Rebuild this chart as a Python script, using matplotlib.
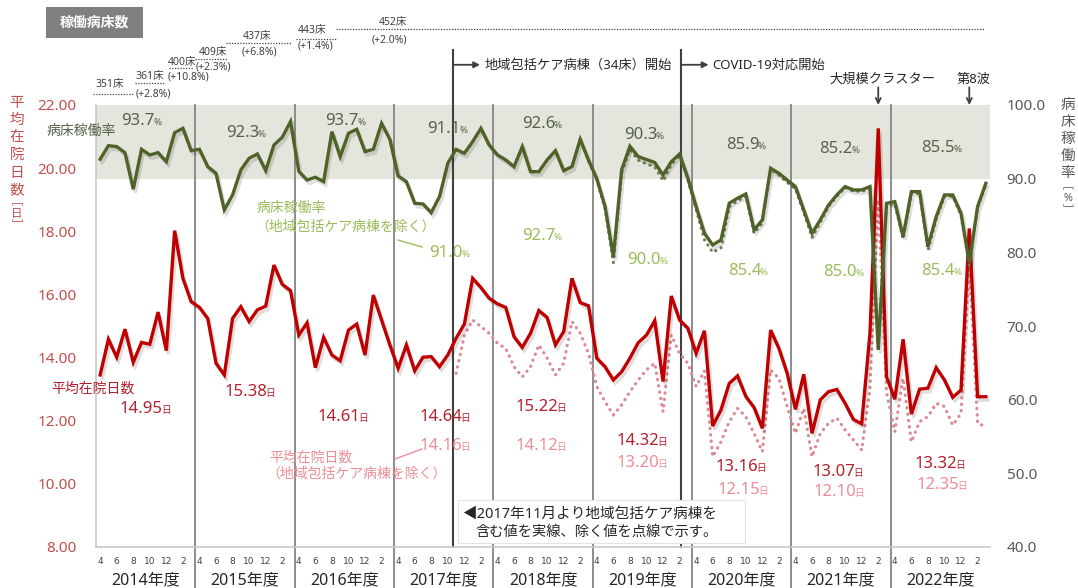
import numpy as np
import matplotlib
matplotlib.use("Agg")
import matplotlib.pyplot as plt
import matplotlib.patheffects as pe
from matplotlib.patches import Rectangle

plt.rcParams['font.family'] = ['Noto Sans', 'Noto Sans CJK JP', 'DejaVu Sans']

# fiscal years (April .. March)
years = ['2014年度', '2015年度', '2016年度', '2017年度', '2018年度',
         '2019年度', '2020年度', '2021年度', '2022年度']
month_labels = ['4', '6', '8', '10', '12', '2']

# 平均在院日数 (days) - monthly, Apr 2014 .. Mar 2023
alos = [13.45, 14.58, 14.01, 14.90, 13.85, 14.48, 14.42, 15.44, 14.22, 18.02, 16.51, 15.77,
        15.59, 15.24, 13.82, 13.45, 15.24, 15.61, 15.14, 15.51, 15.63, 16.93, 16.32, 16.12,
        14.71, 15.10, 13.68, 14.64, 14.08, 13.90, 14.87, 15.06, 14.08, 15.98, 15.19, 14.40,
        13.66, 14.40, 13.58, 14.01, 14.03, 13.71, 14.08, 14.61, 15.06, 16.51, 16.22, 15.88,
        15.70, 15.59, 14.66, 14.32, 14.77, 15.49, 15.27, 14.40, 14.82, 16.51, 15.74, 15.64,
        13.98, 13.71, 13.29, 13.55, 13.98, 14.47, 14.71, 15.17, 13.24, 15.95, 15.19, 14.93,
        14.13, 14.85, 11.83, 12.34, 13.18, 13.42, 12.77, 12.42, 11.76, 14.87, 14.29, 13.50,
        12.36, 13.47, 11.60, 12.66, 12.92, 12.99, 12.55, 12.04, 11.90, 14.77, 21.26, 13.39,
        12.68, 14.58, 12.21, 13.00, 13.03, 13.68, 13.29, 12.74, 12.97, 18.09, 12.76, 12.76]

# 平均在院日数（地域包括ケア病棟を除く） - from Nov 2017
alos_excl = [np.nan] * 43 + [
        13.50, 14.71, 15.19, 14.98, 14.77,
        14.45, 14.29, 13.71, 13.39, 13.71, 14.40, 13.98, 13.45, 13.82, 15.14, 14.77, 14.13,
        13.08, 12.60, 12.18, 12.50, 12.92, 13.29, 13.61, 13.82, 12.29, 14.71, 14.13, 13.82,
        13.08, 13.58, 10.86, 11.33, 11.97, 12.39, 12.13, 11.60, 11.02, 13.61, 13.34, 12.45,
        11.60, 12.39, 10.86, 11.60, 11.92, 12.08, 11.71, 11.39, 11.07, 13.00, 19.00, 12.90,
        11.65, 13.34, 11.33, 11.97, 12.13, 12.55, 12.45, 11.86, 12.23, 17.00, 11.92, 11.81]

# 病床稼働率 (%)
occ = [92.63, 94.48, 94.35, 93.53, 88.56, 93.98, 93.22, 93.53, 92.31, 96.24, 96.83, 93.80,
       93.98, 91.63, 90.73, 85.75, 87.79, 91.18, 92.77, 93.35, 91.09, 94.57, 95.62, 97.74,
       91.00, 89.82, 90.19, 89.60, 96.38, 92.99, 96.16, 96.70, 93.67, 93.98, 97.51, 95.34,
       90.37, 89.60, 86.66, 86.57, 85.39, 87.56, 92.09, 93.98, 93.44, 95.02, 96.83, 94.57,
       93.22, 92.54, 91.63, 94.35, 90.95, 90.95, 92.54, 93.80, 91.09, 91.63, 95.34, 92.50,
       90.00, 86.20, 79.40, 91.20, 94.40, 93.00, 92.60, 92.20, 90.50, 92.30, 93.35, 90.05,
       86.20, 82.59, 81.00, 81.68, 86.66, 87.34, 87.92, 83.04, 84.40, 91.41, 90.73, 89.82,
       88.92, 85.75, 82.59, 84.40, 86.43, 87.79, 88.92, 88.47, 88.47, 88.92, 66.76, 86.66,
       86.88, 82.14, 88.24, 88.24, 80.77, 84.85, 87.79, 87.79, 85.30, 78.52, 86.21, 89.37]

# 病床稼働率（地域包括ケア病棟を除く）
occ_excl = [np.nan] * 43 + [
       93.90, 93.40, 94.95, 96.75, 94.50,
       93.20, 92.50, 91.60, 94.30, 90.90, 90.90, 92.50, 93.75, 91.05, 91.60, 95.30, 92.40,
       89.80, 85.90, 78.60, 90.80, 93.90, 92.50, 92.00, 91.60, 89.70, 91.90, 93.20, 89.80,
       85.80, 81.70, 80.00, 80.60, 86.20, 87.00, 87.60, 82.60, 84.00, 91.30, 90.50, 89.50,
       88.60, 85.40, 82.00, 84.10, 86.20, 87.60, 88.80, 88.30, 88.30, 88.60, 67.50, 86.30,
       86.50, 81.80, 88.00, 88.00, 80.30, 84.50, 87.60, 87.60, 85.00, 78.20, 86.00, 89.20]

# yearly averages
occ_avg = [93.7, 92.3, 93.7, 91.1, 92.6, 90.3, 85.9, 85.2, 85.5]
occ_avg_excl = [91.0, 92.7, 90.0, 85.4, 85.0, 85.4]
alos_avg = [14.95, 15.38, 14.61, 14.64, 15.22, 14.32, 13.16, 13.07, 13.32]
alos_avg_excl = [14.16, 14.12, 13.20, 12.15, 12.10, 12.35]

# 稼働病床数
beds = [351, 361, 400, 409, 437, 443, 452]
bed_growth = ['+2.8%', '+10.8%', '+2.3%', '+6.8%', '+1.4%', '+2.0%']

# ---- colours
RED = '#c00000'
RED_DOT = '#dc8a94'
GREEN = '#4f6228'
GREEN_DOT = '#6f7f58'
TXT_GREEN = '#56624a'
TXT_LGREEN = '#9bbb59'
TXT_RED = '#b5202e'
TXT_LRED = '#ee8d96'

W, H = 1078, 588
fig = plt.figure(figsize=(W / 100, H / 100), dpi=100)
ax = fig.add_axes([96 / W, 1 - 547 / H, 894 / W, 442 / H])
ax2 = ax.twinx()

ax.set_xlim(-0.5, 107.5)
ax.set_ylim(8, 22)
ax2.set_ylim(40, 100)

# grey band 90-100 %
lo = (90 - 40) / (100 - 40)
ax.add_patch(Rectangle((0, lo), 1, 1 - lo, transform=ax.transAxes,
                       facecolor='#e4e6dd', edgecolor='none', zorder=0))

trans = ax.get_xaxis_transform()
# fiscal year separators
for k in range(1, 9):
    b = 12 * k - 0.5
    ax.plot([b, b], [-0.095, 1], transform=trans, color='#8c8c8c', lw=1.4,
            clip_on=False, zorder=1)

# event lines
events = [42.6, 70.2]
event_text = ['地域包括ケア病棟（34床）開始', 'COVID-19対応開始']
for ex, et in zip(events, event_text):
    ax.plot([ex, ex], [0, 1.125], transform=trans, color='#404040', lw=1.5,
            clip_on=False, zorder=2)
    ax.annotate('', xy=(ex + 3.3, 1.091), xytext=(ex, 1.091), xycoords=trans,
                textcoords=trans,
                arrowprops=dict(arrowstyle='-|>', color='#404040', lw=1.3,
                                shrinkA=0, shrinkB=0, mutation_scale=9))
    ax.text(ex + 3.8, 1.091, et, transform=trans, va='center', ha='left',
            fontsize=9.5, color='#262626')

shadow = [pe.SimpleLineShadow(offset=(1.5, -2.5), shadow_color='k', alpha=0.13),
          pe.Normal()]
x = np.arange(len(alos))
dot = (0, (0.1, 1.9))

ax.plot(x, alos_excl, color=RED_DOT, lw=2.3, ls=dot, dash_capstyle='round', zorder=3)
ax.plot(x, alos, color=RED, lw=2.4, zorder=4, path_effects=shadow,
        solid_joinstyle='miter')
ax2.plot(x, occ_excl, color=GREEN_DOT, lw=2.2, ls=dot, dash_capstyle='round', zorder=3)
ax2.plot(x, occ, color=GREEN, lw=2.4, zorder=4, path_effects=shadow,
         solid_joinstyle='miter')

# axes styling
for s in ['top', 'right']:
    ax.spines[s].set_visible(False)
for s in ax2.spines.values():
    s.set_visible(False)
ax.spines['left'].set_color('#c8c8c8')
ax.spines['bottom'].set_color('#c8c8c8')
ax.spines['left'].set_linewidth(1.2)
ax.spines['bottom'].set_linewidth(1.2)

ax.set_xticks(np.arange(0, 108, 2))
ax.set_xticklabels(month_labels * 9)
ax.tick_params(axis='x', length=0, pad=7, labelsize=6.5, labelcolor='#404040')
for t in ax.get_xticklabels():
    t.set_fontfamily('DejaVu Sans')

ax.set_yticks(np.arange(8, 22.1, 2))
ax.set_yticklabels(['%.2f' % v for v in np.arange(8, 22.1, 2)])
ax.tick_params(axis='y', length=0, pad=14, labelsize=11, labelcolor='#c0504d')
ax2.set_yticks(np.arange(40, 101, 10))
ax2.set_yticklabels(['%.1f' % v for v in np.arange(40, 101, 10)])
ax2.tick_params(axis='y', length=0, pad=12, labelsize=11, labelcolor='#595959')

for k, yl in enumerate(years):
    ax.text(12 * k + 5.5, -0.075, yl, transform=trans, ha='center', va='center',
            fontsize=11.5, color='#262626')

# arrows for cluster / 8th wave
for xi, lab in [(94, '大規模クラスター'), (105, '第8波')]:
    ax.annotate('', xy=(xi, 1.0), xytext=(xi, 1.04), xycoords=trans, textcoords=trans,
                arrowprops=dict(arrowstyle='->', color='#404040', lw=1.3,
                                shrinkA=0, shrinkB=0, mutation_scale=9))
    ax.text(xi + 0.5, 1.059, lab, transform=trans, ha='center', va='center',
            fontsize=9.5, color='#262626')

# ---- overlay in pixel coordinates for the annotations
ov = fig.add_axes([0, 0, 1, 1], zorder=10)
ov.set_xlim(0, W)
ov.set_ylim(H, 0)
ov.axis('off')
ov.patch.set_alpha(0)


def value_label(cx, cy, num, unit, color, fmt):
    off = 12.5 if unit == '%' else 15
    ov.text(cx + off, cy + 6, fmt % num, ha='right', va='baseline',
            fontsize=12, color=color)
    ov.text(cx + off - 1.5, cy + 6, unit, ha='left', va='baseline',
            fontsize=7, color=color)


occ_pos = [(142, 119), (247, 131), (346, 119), (448, 127), (543, 122),
           (645, 133), (747, 143), (840, 147), (942, 146)]
occ_excl_pos = [(450, 251), (543, 234), (648, 258), (749, 269), (844, 270), (942, 269)]
alos_pos = [(148, 407), (252, 390), (345, 415), (447, 415), (543, 405),
            (644, 439), (743, 465), (840, 470), (942, 462)]
alos_excl_pos = [(447, 444), (543, 444), (644, 461), (745, 488), (841, 490), (944, 483)]

for (cx, cy), v in zip(occ_pos, occ_avg):
    value_label(cx, cy, v, '%', TXT_GREEN, '%.1f')
for (cx, cy), v in zip(occ_excl_pos, occ_avg_excl):
    value_label(cx, cy, v, '%', TXT_LGREEN, '%.1f')
for (cx, cy), v in zip(alos_pos, alos_avg):
    value_label(cx, cy, v, '日', TXT_RED, '%.2f')
for (cx, cy), v in zip(alos_excl_pos, alos_avg_excl):
    value_label(cx, cy, v, '日', TXT_LRED, '%.2f')

# series names
ov.text(81, 131, '病床稼働率', ha='center', va='center', fontsize=10, color=TXT_GREEN)
ov.text(257, 208, '病床稼働率', ha='left', va='center', fontsize=10, color=TXT_LGREEN)
ov.text(255, 227, '（地域包括ケア病棟を除く）', ha='left', va='center', fontsize=10,
        color=TXT_LGREEN)
ov.plot([398, 422], [240, 247], color=TXT_LGREEN, lw=1)
ov.text(93, 389, '平均在院日数', ha='center', va='center', fontsize=10, color=TXT_RED)
ov.text(269, 458, '平均在院日数', ha='left', va='center', fontsize=10, color=TXT_LRED)
ov.text(266, 474, '（地域包括ケア病棟を除く）', ha='left', va='center', fontsize=10,
        color=TXT_LRED)
ov.plot([395, 422], [459, 449], color=TXT_LRED, lw=1)

# note box
ov.add_patch(Rectangle((458, 500), 287, 43, facecolor='white', edgecolor='#e3e3e3', lw=0.8))
ov.text(462, 515, '◀2017年11月より地域包括ケア病棟を', ha='left', va='center',
        fontsize=10.5, color='#262626')
ov.text(475, 532, '含む値を実線、除く値を点線で示す。', ha='left', va='center',
        fontsize=10.3, color='#262626')

# axis titles (vertical)
for i, ch in enumerate('平均在院日数'):
    ov.text(17, 103 + i * 17.5, ch, ha='center', va='center', fontsize=10.5,
            color='#c0504d')
for ch, yy in zip('﹇日﹈', [202, 214, 226]):
    ov.text(17, yy, ch, ha='center', va='center', fontsize=8.2, color='#c0504d')
for i, ch in enumerate('病床稼働率'):
    ov.text(1068, 105 + i * 17.2, ch, ha='center', va='center', fontsize=10.5,
            color='#595959')
for ch, yy in zip('﹇%﹈', [187, 198.5, 210]):
    ov.text(1068, yy, ch, ha='center', va='center', fontsize=7.8, color='#595959')

# 稼働病床数
ov.add_patch(Rectangle((46, 7), 97, 31, facecolor='#7f7f7f', edgecolor='none'))
ov.text(94.5, 22.5, '稼働病床数', ha='center', va='center', fontsize=10,
        fontweight='bold', color='white')

bed_text_xy = [(110, 84), (150, 77), (182, 62), (213, 53), (257, 36), (312, 31), (393, 22)]
bed_line = [(93, 134, 93.5), (135, 165, 83), (169, 193, 68), (195, 227, 59),
            (226, 291, 43), (296, 336, 38.5), (336, 984, 29)]
growth_xy = [(153, 93.5), (188, 77), (213, 67), (259, 52), (315, 46), (389, 39.5)]
for (tx, ty), (x0, x1, ly), b in zip(bed_text_xy, bed_line, beds):
    ov.text(tx, ty, '%d床' % b, ha='center', va='center', fontsize=7.5, color='#404040')
    ov.plot([x0, x1], [ly, ly], color='#404040', lw=0.9, ls=(0, (1, 1.2)))
for (gx, gy), g in zip(growth_xy, bed_growth):
    ov.text(gx, gy, '(%s)' % g, ha='center', va='center', fontsize=7.5, color='#404040')

fig.savefig('out.png', dpi=100)
